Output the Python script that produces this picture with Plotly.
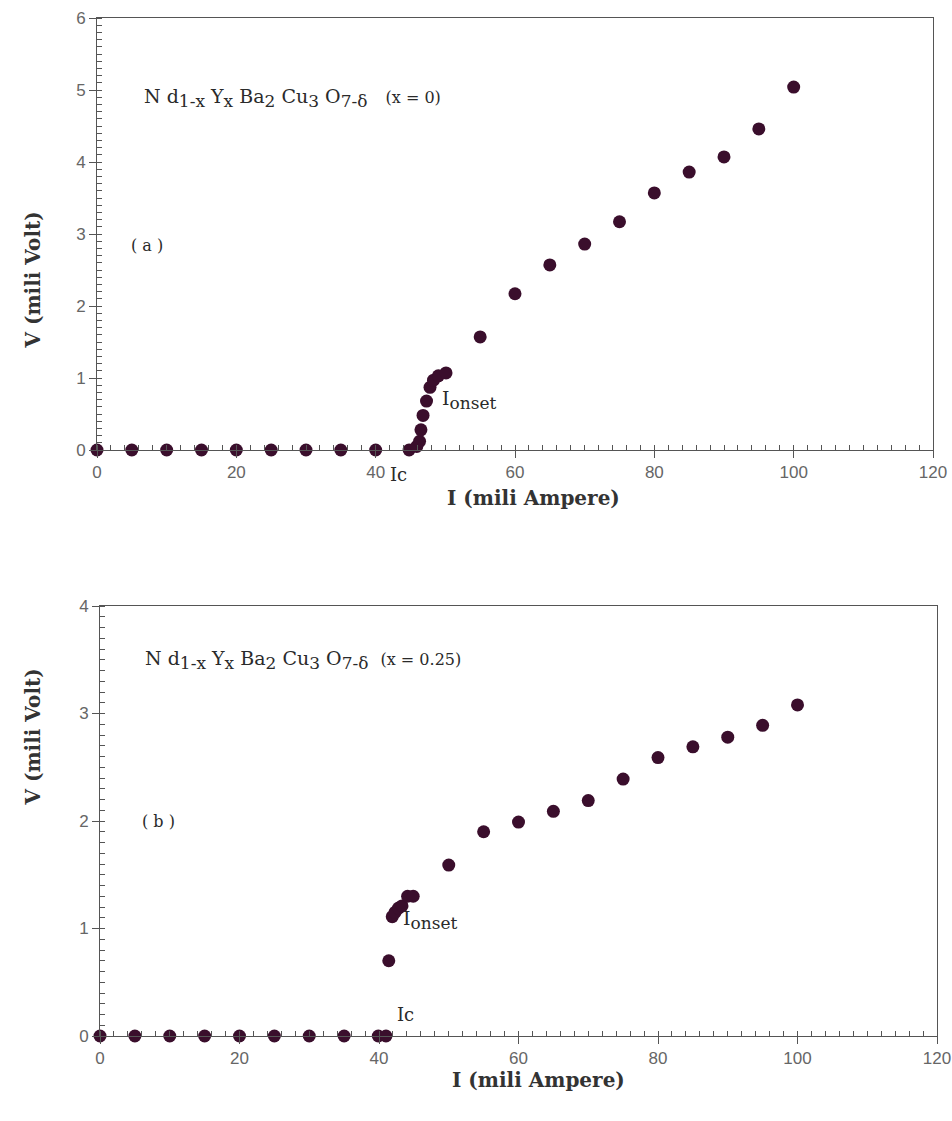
import plotly.graph_objects as go

# ---- data ----
I_a = [0, 5, 10, 15, 20, 25, 30, 35, 40, 44.8, 45.9, 46.3, 46.5, 46.8, 47.3, 47.8, 48.3, 49.0, 50.1,
       55, 60, 65, 70, 75, 80, 85, 90, 95, 100]
V_a = [0, 0, 0, 0, 0, 0, 0, 0, 0, 0.0, 0.05, 0.12, 0.28, 0.48, 0.68, 0.87, 0.97, 1.03, 1.07,
       1.57, 2.17, 2.57, 2.86, 3.17, 3.57, 3.86, 4.07, 4.46, 5.04]

I_b = [0, 5, 10, 15, 20, 25, 30, 35, 39.9, 41.0, 41.4, 41.9, 42.3, 42.8, 43.3, 44.1, 44.9,
       50, 55, 60, 65, 70, 75, 80, 85, 90, 95, 100]
V_b = [0, 0, 0, 0, 0, 0, 0, 0, 0, 0, 0.70, 1.11, 1.15, 1.19, 1.21, 1.30, 1.30,
       1.59, 1.90, 1.99, 2.09, 2.19, 2.39, 2.59, 2.69, 2.78, 2.89, 3.08]

x_ticks = [0, 20, 40, 60, 80, 100, 120]
ya_ticks = [0, 1, 2, 3, 4, 5, 6]
yb_ticks = [0, 1, 2, 3, 4]

W, H = 952, 1121
def fx(p): return p / W
def fy(p): return 1 - p / H

MC = "#3a0e2c"
SERIF = "DejaVu Serif"
SANS = "Liberation Sans"

fig = go.Figure()
fig.add_trace(go.Scatter(x=I_a, y=V_a, mode="markers", xaxis="x", yaxis="y",
                         marker=dict(size=13, color=MC, line=dict(width=0)),
                         cliponaxis=False, showlegend=False))
fig.add_trace(go.Scatter(x=I_b, y=V_b, mode="markers", xaxis="x2", yaxis="y2",
                         marker=dict(size=13, color=MC, line=dict(width=0)),
                         cliponaxis=False, showlegend=False))

axcommon = dict(showgrid=False, zeroline=False, showline=True, linecolor="#555", linewidth=1,
                mirror=True, ticks="outside", ticklen=7, tickcolor="#555", automargin=False,
                tickfont=dict(family=SANS, size=17, color="#666"))

fig.update_layout(
    width=W, height=H, margin=dict(l=0, r=0, t=0, b=0, autoexpand=False),
    paper_bgcolor="white", plot_bgcolor="white",
    xaxis=dict(domain=[fx(97), fx(933)], range=[0, 120], tickvals=x_ticks, anchor="y",
               minor=dict(dtick=2, ticks="inside", ticklen=5, tickcolor="#555"), **axcommon),
    yaxis=dict(domain=[fy(450), fy(18)], range=[0, 6], tickvals=ya_ticks, anchor="x",
               minor=dict(dtick=0.1, ticks="inside", ticklen=5, tickcolor="#555"), **axcommon),
    xaxis2=dict(domain=[fx(100), fx(937)], range=[0, 120], tickvals=x_ticks, anchor="y2",
                minor=dict(dtick=2, ticks="inside", ticklen=5, tickcolor="#555"), **axcommon),
    yaxis2=dict(domain=[fy(1036), fy(606)], range=[0, 4], tickvals=yb_ticks, anchor="x2",
                minor=dict(dtick=0.1, ticks="inside", ticklen=5, tickcolor="#555"), **axcommon),
)

TC = "#2a2a2a"
tf = dict(family=SERIF, size=19, color=TC)
def sub(s, fs=17):
    return "<sub><span style='font-size:%dpx'>%s</span></sub>" % (fs, s)
formula = "N d" + sub("1-x") + " Y" + sub("x") + " Ba" + sub("2") + " Cu" + sub("3") + " O" + sub("7-δ")
titlef = dict(family=SERIF, size=20, color="#333")
small = "<span style='font-size:16px'>%s</span>"
ann = [
    # panel a
    dict(x=fx(142), y=fy(98), xref="paper", yref="paper",
         text=formula + "&nbsp;&nbsp;&nbsp;" + small % "(x = 0)",
         xanchor="left", yanchor="middle", showarrow=False, font=tf),
    dict(x=fx(129), y=fy(234), xref="paper", yref="paper", text="( a )",
         showarrow=False, font=dict(family=SERIF, size=16, color=TC)),
    dict(x=fx(440), y=fy(400), xref="paper", yref="paper", text="I" + sub("onset"),
         xanchor="left", showarrow=False, font=dict(family=SERIF, size=19, color=TC)),
    dict(x=fx(398), y=fy(474), xref="paper", yref="paper", text="Ic",
         showarrow=False, font=dict(family=SERIF, size=18, color=TC)),
    dict(x=fx(18), y=fy(210), xref="paper", yref="paper", text="<b>V (mili Volt)</b>", textangle=-90,
         showarrow=False, font=titlef),
    dict(x=fx(533), y=fy(498), xref="paper", yref="paper", text="<b>I (mili Ampere)</b>",
         showarrow=False, font=titlef),
    # panel b
    dict(x=fx(143), y=fy(660), xref="paper", yref="paper",
         text=formula + "&nbsp;&nbsp;" + small % "(x = 0.25)",
         xanchor="left", yanchor="middle", showarrow=False, font=tf),
    dict(x=fx(140), y=fy(833), xref="paper", yref="paper", text="( b )",
         showarrow=False, font=dict(family=SERIF, size=16, color=TC)),
    dict(x=fx(401), y=fy(935), xref="paper", yref="paper", text="I" + sub("onset"),
         xanchor="left", showarrow=False, font=dict(family=SERIF, size=19, color=TC)),
    dict(x=fx(405), y=fy(1027), xref="paper", yref="paper", text="Ic",
         showarrow=False, font=dict(family=SERIF, size=18, color=TC)),
    dict(x=fx(18), y=fy(808), xref="paper", yref="paper", text="<b>V (mili Volt)</b>", textangle=-90,
         showarrow=False, font=titlef),
    dict(x=fx(538), y=fy(1094), xref="paper", yref="paper", text="<b>I (mili Ampere)</b>",
         showarrow=False, font=titlef),
]
fig.update_layout(annotations=ann)

fig.write_html("out.html")
